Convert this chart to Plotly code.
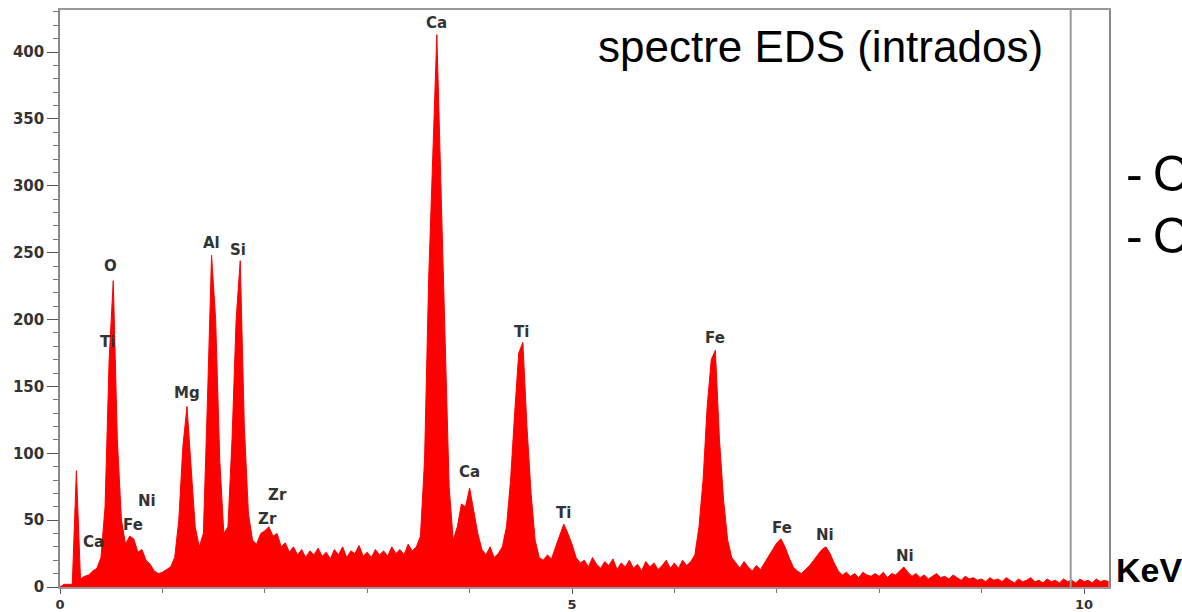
import plotly.graph_objects as go

# ---- data: EDS spectrum, counts per 0.04 keV channel ----
channel_step_kev = 0.04
counts_0_1 = [0, 2, 2, 2, 87, 6, 8, 9, 12, 14, 22, 60, 170, 229, 110, 50, 32, 38, 36, 26, 28, 20, 17, 12, 10]
counts_1_2 = [11, 13, 15, 22, 50, 105, 135, 90, 45, 30, 40, 140, 248, 200, 95, 40, 45, 110, 200, 244, 120, 55, 35, 32, 40]
counts_2_3 = [42, 45, 38, 40, 30, 33, 26, 30, 24, 28, 22, 27, 24, 29, 23, 26, 21, 28, 24, 30, 22, 27, 25, 31, 23]
counts_3_4 = [26, 22, 28, 24, 27, 23, 30, 25, 28, 24, 32, 27, 30, 38, 95, 230, 330, 413, 300, 190, 75, 35, 45, 62, 60]
counts_4_5 = [74, 58, 40, 28, 24, 30, 22, 25, 30, 45, 80, 130, 175, 183, 120, 70, 35, 22, 20, 24, 21, 30, 38, 47, 40]
counts_5_6 = [32, 22, 18, 20, 15, 22, 17, 14, 19, 16, 21, 13, 18, 15, 20, 14, 17, 12, 19, 15, 18, 13, 16, 20, 14]
counts_6_7 = [18, 14, 20, 16, 19, 24, 45, 80, 135, 170, 177, 110, 65, 35, 22, 18, 14, 19, 15, 12, 16, 13, 18, 22, 28]
counts_7_8 = [33, 36, 30, 22, 15, 12, 10, 13, 16, 20, 24, 28, 30, 25, 18, 12, 9, 11, 8, 10, 7, 11, 9, 8, 10]
counts_8_9 = [8, 11, 7, 10, 9, 12, 15, 11, 8, 10, 7, 9, 6, 8, 10, 7, 8, 6, 9, 7, 5, 8, 6, 7, 5]
counts_9_10 = [6, 4, 7, 5, 6, 4, 7, 5, 3, 6, 4, 5, 7, 4, 5, 3, 6, 4, 5, 3, 6, 4, 5, 3, 6]
counts_10_end = [4, 5, 3, 6, 4, 5, 4]

counts = (counts_0_1 + counts_1_2 + counts_2_3 + counts_3_4 + counts_4_5 +
          counts_5_6 + counts_6_7 + counts_7_8 + counts_8_9 + counts_9_10 + counts_10_end)
energies = [round(i * channel_step_kev, 2) for i in range(len(counts))]

# peak labels: element, energy (keV), count position
label_text = ["Ca", "O", "Ti", "Ca", "Fe", "Ni", "Mg", "Al", "Si", "Zr", "Zr",
              "Ti", "Ca", "Ti", "Fe", "Fe", "Ni", "Ni"]
label_energy = [3.68, 0.49, 0.46, 0.33, 0.71, 0.85, 1.24, 1.48, 1.74, 2.12, 2.03,
                4.51, 4.00, 4.92, 6.40, 7.05, 7.47, 8.25]
label_count = [422, 240, 183, 34, 46, 64, 145, 257, 252, 69, 51,
               191, 86, 55, 186, 44, 39, 23]

y_ticks = [0, 50, 100, 150, 200, 250, 300, 350, 400]
x_ticks = [0, 5, 10]
marker_energy = 9.87

fig = go.Figure()
fig.add_trace(go.Scatter(
    x=energies, y=counts, mode="lines", fill="tozeroy",
    line=dict(color="#ff0000", width=1), fillcolor="#ff0000",
    hoverinfo="skip", showlegend=False))

for t, e, c in zip(label_text, label_energy, label_count):
    fig.add_annotation(x=e, y=c, text=f"<b>{t}</b>", showarrow=False,
                       font=dict(family="DejaVu Sans", size=15, color="#333333"),
                       xanchor="center", yanchor="middle")

fig.add_shape(type="line", x0=marker_energy, x1=marker_energy, y0=0, y1=1,
              xref="x", yref="paper", line=dict(color="#9a9a9a", width=2))

fig.add_annotation(x=0.511, y=0.936, xref="paper", yref="paper", text="spectre EDS (intrados)",
                   showarrow=False, xanchor="left", yanchor="middle",
                   font=dict(family="Liberation Sans", size=44, color="#000000"))
for yy in [0.716, 0.608]:
    fig.add_annotation(x=1.0143, y=yy, xref="paper", yref="paper", text="-\u2009C",
                       showarrow=False, xanchor="left", yanchor="middle",
                       font=dict(family="Liberation Sans", size=50, color="#000000"))
fig.add_annotation(x=1.0050, y=0.030, xref="paper", yref="paper", text="<b>KeV</b>",
                   showarrow=False, xanchor="left", yanchor="middle",
                   font=dict(family="Liberation Sans", size=34, color="#000000"))

tickfont = dict(family="DejaVu Sans", size=15, color="#333333")
fig.update_xaxes(range=[0, 10.244], tickvals=x_ticks, ticktext=[f"<b>{v}</b>" for v in x_ticks],
                 ticks="outside", ticklen=5, tickcolor="#555555",
                 minor=dict(dtick=1, tick0=0, ticks="outside", ticklen=4, tickcolor="#777777"),
                 showgrid=False, zeroline=False, showline=True, linecolor="#999999",
                 linewidth=1.5, mirror=True, tickfont=dict(family="DejaVu Sans", size=13, color="#333333"),
                 automargin=False)
fig.update_yaxes(range=[0, 431.4], tickvals=y_ticks, ticktext=[f"<b>{v}</b>" for v in y_ticks],
                 ticks="outside", ticklen=11, tickcolor="#555555",
                 minor=dict(dtick=10, tick0=0, ticks="outside", ticklen=5, tickcolor="#777777"),
                 showgrid=False, zeroline=False, showline=True, linecolor="#888888",
                 linewidth=1.5, mirror=True, tickfont=tickfont, automargin=False)

fig.update_layout(width=1182, height=612, margin=dict(l=60, r=73, t=10, b=25, autoexpand=False),
                  paper_bgcolor="white", plot_bgcolor="white")
fig.write_html("out.html")
